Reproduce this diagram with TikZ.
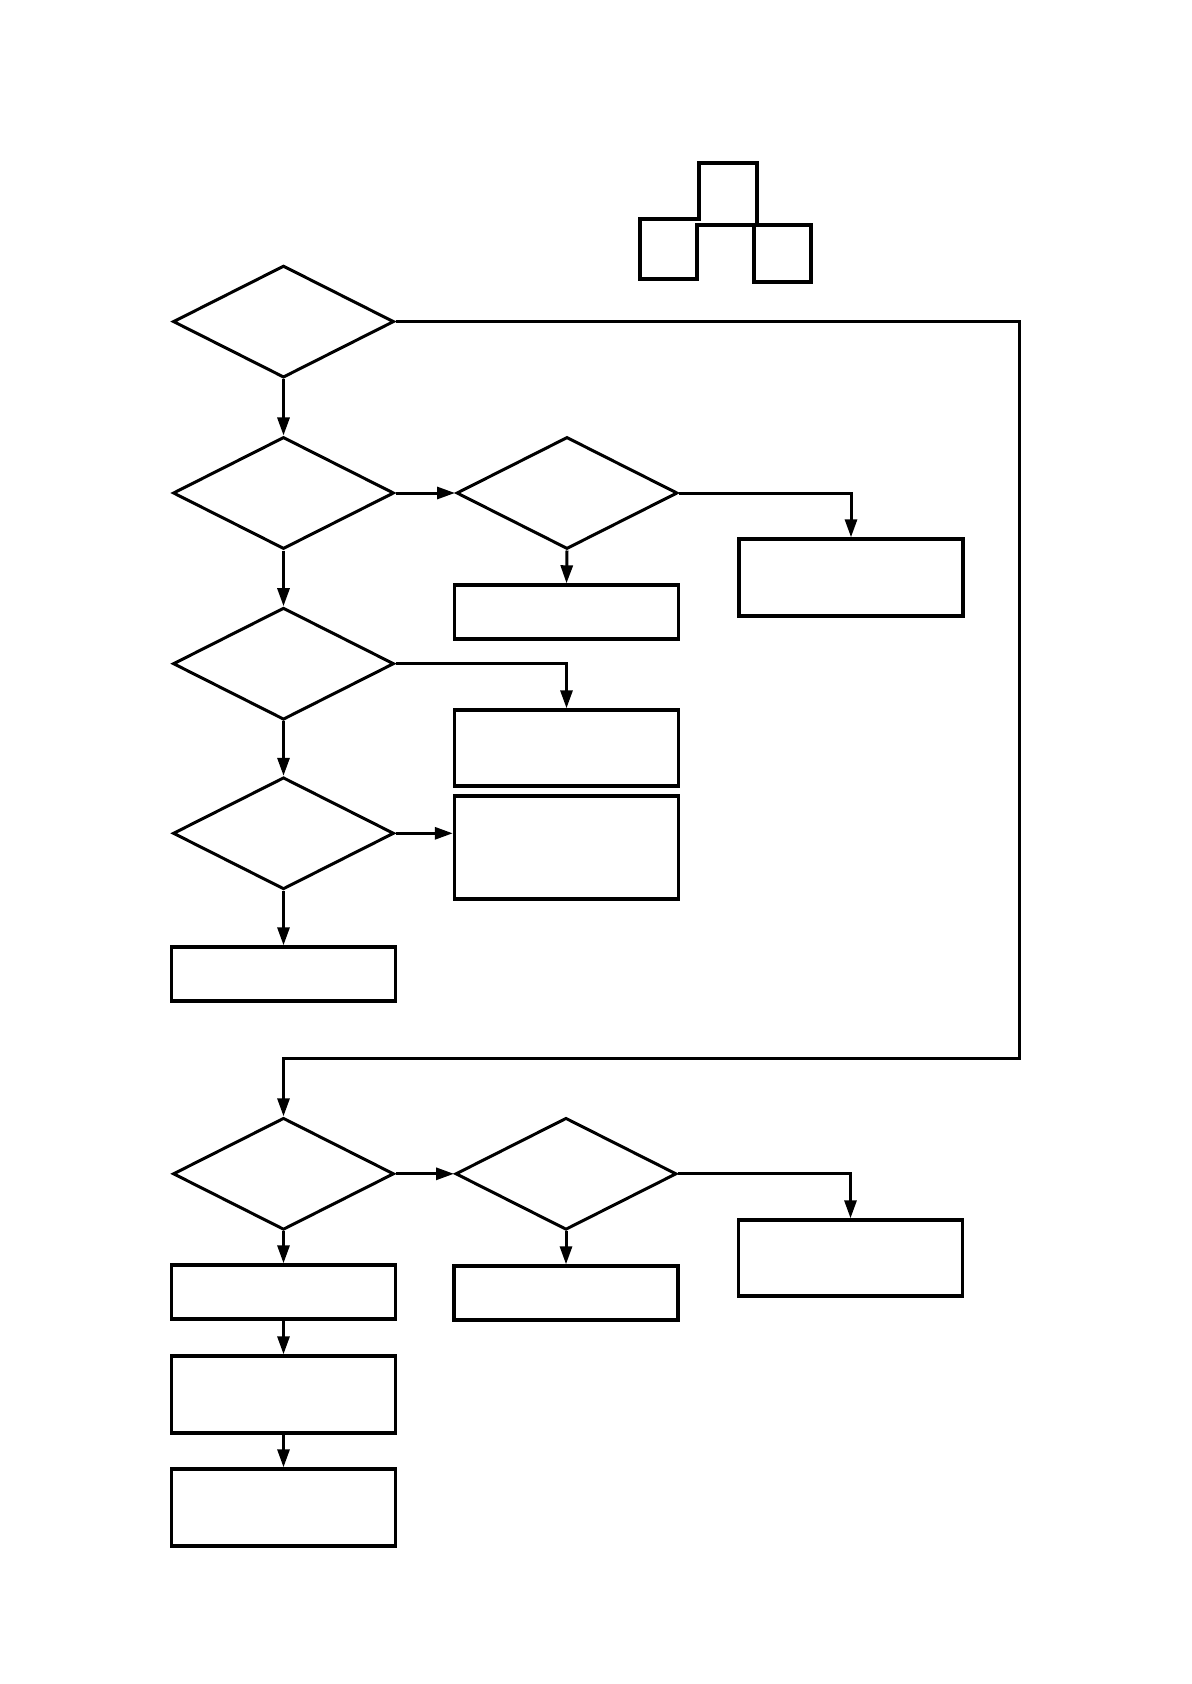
\documentclass[tikz,border=0pt]{standalone}
\usetikzlibrary{shapes.geometric,arrows.meta}
\begin{document}
\begin{tikzpicture}[x=0.5pt, y=-0.5pt, line width=1.5pt,
  >={Triangle[length=9pt,width=6pt]},
  dec/.style={draw, diamond, inner sep=0pt, minimum width=110.5pt, minimum height=56pt},
  blk/.style={draw, rectangle, inner sep=0pt, minimum width=112pt, line width=1.7pt},
  flow/.style={->}]
  \useasboundingbox (0,0) rectangle (1191,1684);

  % Logo
  \draw[line width=1.7pt] (697,225) -- (697,279) -- (640,279) -- (640,219) -- (699,219)
    -- (699,163) -- (757,163) -- (757,225) -- (811,225) -- (811,282) -- (754,282)
    -- (754,225) -- cycle;

  % Decisiones
  \node[dec] (d1) at (283.5,321.6) {};
  \node[dec] (d2) at (283.5,493) {};
  \node[dec] (d3) at (567,493) {};
  \node[dec] (d4) at (283.5,663.7) {};
  \node[dec] (d5) at (283.5,833.3) {};
  \node[dec] (d6) at (283.5,1173.8) {};
  \node[dec] (d7) at (566,1173.8) {};

  % Bloques
  \node[blk, minimum height=27pt] (b1) at (566.5,612) {};
  \node[blk, minimum height=38.5pt] (b2) at (851,577.5) {};
  \node[blk, minimum height=38pt] (b3) at (566.5,748) {};
  \node[blk, minimum height=51.5pt] (b4) at (566.5,847.5) {};
  \node[blk, minimum height=27pt] (b5) at (283.5,974) {};
  \node[blk, minimum height=27pt] (b6) at (283.5,1292) {};
  \node[blk, minimum height=27pt] (b7) at (566,1293) {};
  \node[blk, minimum height=38pt] (b8) at (850.5,1258) {};
  \node[blk, minimum height=38.5pt] (b9) at (283.5,1394.5) {};
  \node[blk, minimum height=38.5pt] (b10) at (283.5,1507.5) {};

  % Conexiones, parte superior
  \draw[flow] (d1.south) -- (d2.north);
  \draw[flow] (d2.east) -- (d3.west);
  \draw[flow] (d3.south) -- (b1.north);
  \draw[flow] (d3.east) -| (b2.north);
  \draw[flow] (d2.south) -- (d4.north);
  \draw[flow] (d4.east) -| (b3.north);
  \draw[flow] (d4.south) -- (d5.north);
  \draw[flow] (d5.east) -- (d5.east -| b4.west);
  \draw[flow] (d5.south) -- (b5.north);

  % Retorno por la derecha
  \coordinate (lazo) at (1019,1058);
  \draw[flow] (d1.east) -| (lazo) -- (lazo -| d6.north) -- (d6.north);

  % Conexiones, parte inferior
  \draw[flow] (d6.east) -- (d7.west);
  \draw[flow] (d7.east) -| (b8.north);
  \draw[flow] (d7.south) -- (b7.north);
  \draw[flow] (d6.south) -- (b6.north);
  \draw[flow] (b6.south) -- (b9.north);
  \draw[flow] (b9.south) -- (b10.north);
\end{tikzpicture}
\end{document}
